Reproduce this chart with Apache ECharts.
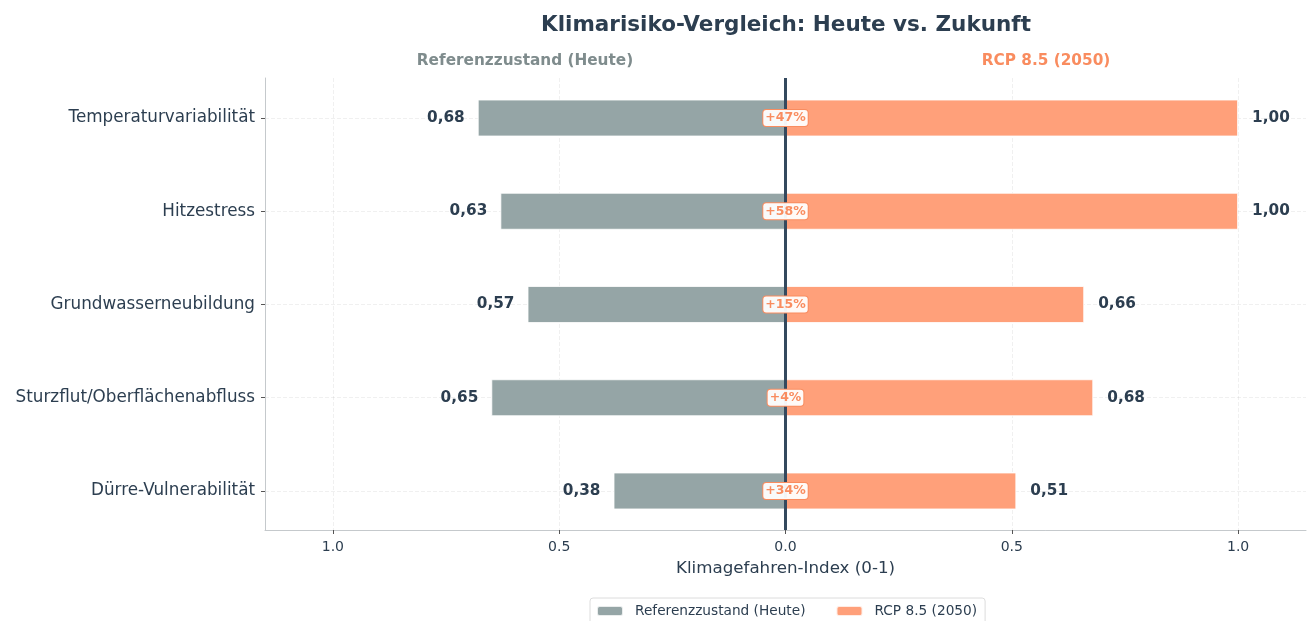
<!DOCTYPE html>
<html>
<head>
<meta charset="utf-8">
<title>Klimarisiko-Vergleich</title>
<script src="https://cdn.jsdelivr.net/npm/echarts@6/dist/echarts.min.js"></script>
<style>
    html, body { margin: 0; padding: 0; background: #fff; }
    #chart { width: 1314px; height: 621px; }
</style>
</head>
<body>
<div id="chart"></div>
<script>
// Daten
var categories = ['Temperaturvariabilität', 'Hitzestress', 'Grundwasserneubildung', 'Sturzflut/Oberflächenabfluss', 'Dürre-Vulnerabilität'];
var heute = [0.68, 0.63, 0.57, 0.65, 0.38];
var zukunft = [1.00, 1.00, 0.66, 0.68, 0.51];
var aenderung = [47, 58, 15, 4, 34];   // Veränderung in %

var grau = '#95a5a6';
var orange = '#ffa07a';
var orangeText = '#f98c5f';
var dunkel = '#2c3e50';

function komma(v) {
    return Math.abs(v).toFixed(2).replace('.', ',');
}

var myChart = echarts.init(document.getElementById('chart'));

var option = {
    textStyle: { fontFamily: 'DejaVu Sans' },
    animation: false,
    graphic: [
        { type: 'text', x: 786, y: 25, style: { text: 'Klimarisiko-Vergleich: Heute vs. Zukunft', font: 'bold 21.5px "DejaVu Sans"', fill: dunkel, textAlign: 'center', textVerticalAlign: 'middle' } },
        { type: 'text', x: 525, y: 61, style: { text: 'Referenzzustand (Heute)', font: 'bold 15.3px "DejaVu Sans"', fill: '#7f8c8d', textAlign: 'center', textVerticalAlign: 'middle' } },
        { type: 'text', x: 1046, y: 61, style: { text: 'RCP 8.5 (2050)', font: 'bold 15.3px "DejaVu Sans"', fill: orangeText, textAlign: 'center', textVerticalAlign: 'middle' } }
    ],
    legend: {
        data: ['Referenzzustand (Heute)', 'RCP 8.5 (2050)'],
        left: 590,
        top: 598,
        padding: [6, 8, 6, 6],
        itemWidth: 26,
        itemHeight: 10,
        itemGap: 30,
        borderColor: '#dcdcdc',
        borderWidth: 1,
        borderRadius: 3,
        textStyle: { fontSize: 13.7, color: dunkel, padding: [0, 0, 0, 7] }
    },
    // grid 0: sichtbare Achsen, grid 1: Balken
    grid: [
        { left: 265, right: 8, top: 78, height: 452 },
        { left: 265, right: 8, top: 71.4, height: 466.2 }
    ],
    xAxis: [
        {
            gridIndex: 0,
            type: 'value',
            min: -1.15,
            max: 1.15,
            splitNumber: 5,
            name: 'Klimagefahren-Index (0-1)',
            nameLocation: 'middle',
            nameGap: 30,
            nameTextStyle: { fontSize: 16.7, color: dunkel },
            axisLine: { onZero: false, lineStyle: { color: '#c5c9cc', width: 1 } },
            axisTick: { length: 4, lineStyle: { color: '#555' } },
            axisLabel: {
                fontSize: 14,
                color: dunkel,
                margin: 10,
                showMinLabel: false,
                showMaxLabel: false,
                formatter: function (v) { return Math.abs(v).toFixed(1); }
            },
            splitLine: {
                show: true,
                showMinLine: false,
                showMaxLine: false,
                lineStyle: { color: 'rgba(0,0,0,0.06)', type: 'dashed' }
            }
        },
        {
            gridIndex: 1,
            type: 'value',
            min: -1.15,
            max: 1.15,
            show: false
        }
    ],
    yAxis: [
        {
            gridIndex: 0,
            type: 'value',
            min: 0,
            max: 1,
            axisLine: { show: true, onZero: false, lineStyle: { color: '#c5c9cc', width: 1 } },
            axisTick: { show: false },
            axisLabel: { show: false },
            splitLine: { show: false }
        },
        {
            gridIndex: 1,
            type: 'category',
            data: categories,
            inverse: true,
            axisLine: { show: false, onZero: false },
            axisTick: { show: true, alignWithLabel: true, length: 4, lineStyle: { color: '#555' } },
            axisLabel: { fontSize: 16.8, color: dunkel, margin: 10 },
            splitLine: { show: false }
        }
    ],
    series: [
        {
            name: 'Referenzzustand (Heute)',
            type: 'bar',
            xAxisIndex: 1,
            yAxisIndex: 1,
            data: heute.map(function (v) { return -v; }),
            barWidth: 37,
            barGap: '-100%',
            itemStyle: { color: grau, borderColor: 'rgba(255,255,255,0.8)', borderWidth: 1 },
            label: {
                show: true,
                position: 'left',
                distance: 13,
                fontSize: 15.3,
                fontWeight: 'bold',
                color: dunkel,
                formatter: function (p) { return komma(p.value); }
            },
            z: 2
        },
        {
            name: 'RCP 8.5 (2050)',
            type: 'bar',
            xAxisIndex: 1,
            yAxisIndex: 1,
            data: zukunft,
            barWidth: 37,
            barGap: '-100%',
            itemStyle: { color: orange, borderColor: 'rgba(255,255,255,0.8)', borderWidth: 1 },
            label: {
                show: true,
                position: 'right',
                distance: 14,
                fontSize: 15.3,
                fontWeight: 'bold',
                color: dunkel,
                formatter: function (p) { return komma(p.value); }
            },
            z: 2
        },
        {
            // horizontale Hilfslinien
            name: 'hilfslinien',
            type: 'scatter',
            xAxisIndex: 1,
            yAxisIndex: 1,
            data: [],
            silent: true,
            markLine: {
                silent: true,
                symbol: 'none',
                z: 0,
                label: { show: false },
                lineStyle: { color: 'rgba(0,0,0,0.06)', type: 'dashed', width: 1 },
                data: categories.map(function (c) { return { yAxis: c }; })
            }
        },
        {
            // Mittellinie bei 0
            name: 'mittellinie',
            type: 'line',
            xAxisIndex: 0,
            yAxisIndex: 0,
            data: [],
            silent: true,
            markLine: {
                silent: true,
                symbol: 'none',
                z: 4,
                label: { show: false },
                lineStyle: { color: '#34495e', type: 'solid', width: 3 },
                data: [{ xAxis: 0 }]
            }
        },
        {
            // Veränderung in %
            name: 'aenderung',
            type: 'scatter',
            xAxisIndex: 1,
            yAxisIndex: 1,
            data: aenderung.map(function (p, i) { return [0, i]; }),
            symbolSize: 1,
            itemStyle: { color: 'rgba(0,0,0,0)', opacity: 1 },
            silent: true,
            z: 10,
            label: {
                show: true,
                position: 'inside',
                fontSize: 12.5,
                fontWeight: 'bold',
                color: orangeText,
                backgroundColor: 'rgba(255,255,255,0.94)',
                borderColor: orangeText,
                borderWidth: 1,
                borderRadius: 3,
                padding: [2, 2, 1, 2],
                formatter: function (p) { return '+' + aenderung[p.dataIndex] + '%'; }
            }
        }
    ]
};

myChart.setOption(option);
window.addEventListener('resize', function () {
    myChart.resize();
});
</script>
</body>
</html>
